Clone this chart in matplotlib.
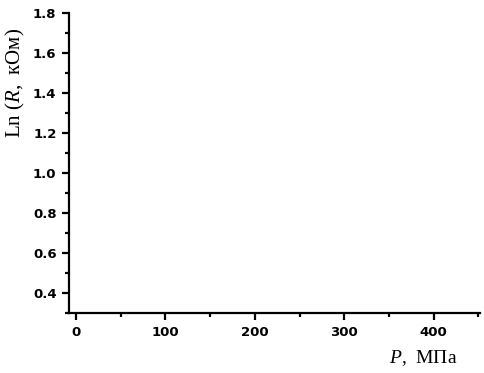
import matplotlib
matplotlib.use('Agg')
import matplotlib.pyplot as plt
from matplotlib.ticker import MultipleLocator

# axis ranges (no data drawn)
x_limits = [-8, 452]
y_limits = [0.3, 1.8]
x_ticks = [0, 100, 200, 300, 400]
y_ticks = [0.4, 0.6, 0.8, 1.0, 1.2, 1.4, 1.6, 1.8]

plt.rcParams['mathtext.fontset'] = 'custom'
plt.rcParams['mathtext.it'] = 'Liberation Serif:italic'
plt.rcParams['mathtext.rm'] = 'Liberation Serif'

fig = plt.figure(figsize=(4.84, 3.73), dpi=100)
ax = fig.add_axes([69/484, 1-313/373, 411/484, 300/373])

ax.set_xlim(x_limits)
ax.set_ylim(y_limits)
ax.set_xticks(x_ticks)
ax.set_yticks(y_ticks)
ax.set_yticklabels(['%.1f' % v for v in y_ticks])
ax.xaxis.set_minor_locator(MultipleLocator(50))
ax.yaxis.set_minor_locator(MultipleLocator(0.1))

for s in ['top', 'right']:
    ax.spines[s].set_visible(False)
for s in ['left', 'bottom']:
    ax.spines[s].set_linewidth(1.6)

ax.tick_params(which='major', direction='out', length=5, width=1.6,
               labelsize=9.5, pad=4)
ax.tick_params(which='minor', direction='out', length=3, width=1.6)
for lab in ax.get_xticklabels() + ax.get_yticklabels():
    lab.set_fontfamily('DejaVu Sans')
    lab.set_fontweight('bold')

fig.text(457/484, 1-363/373, r'$\mathit{P}$,  МПа', family='Liberation Serif',
         fontsize=14, ha='right', va='baseline')
fig.text(15.5/484, 1-83/373, r'Ln ($\mathit{R}$,  кОм)', family='Liberation Serif',
         fontsize=15, rotation=90, ha='center', va='center')

fig.savefig('out.png', dpi=100)
